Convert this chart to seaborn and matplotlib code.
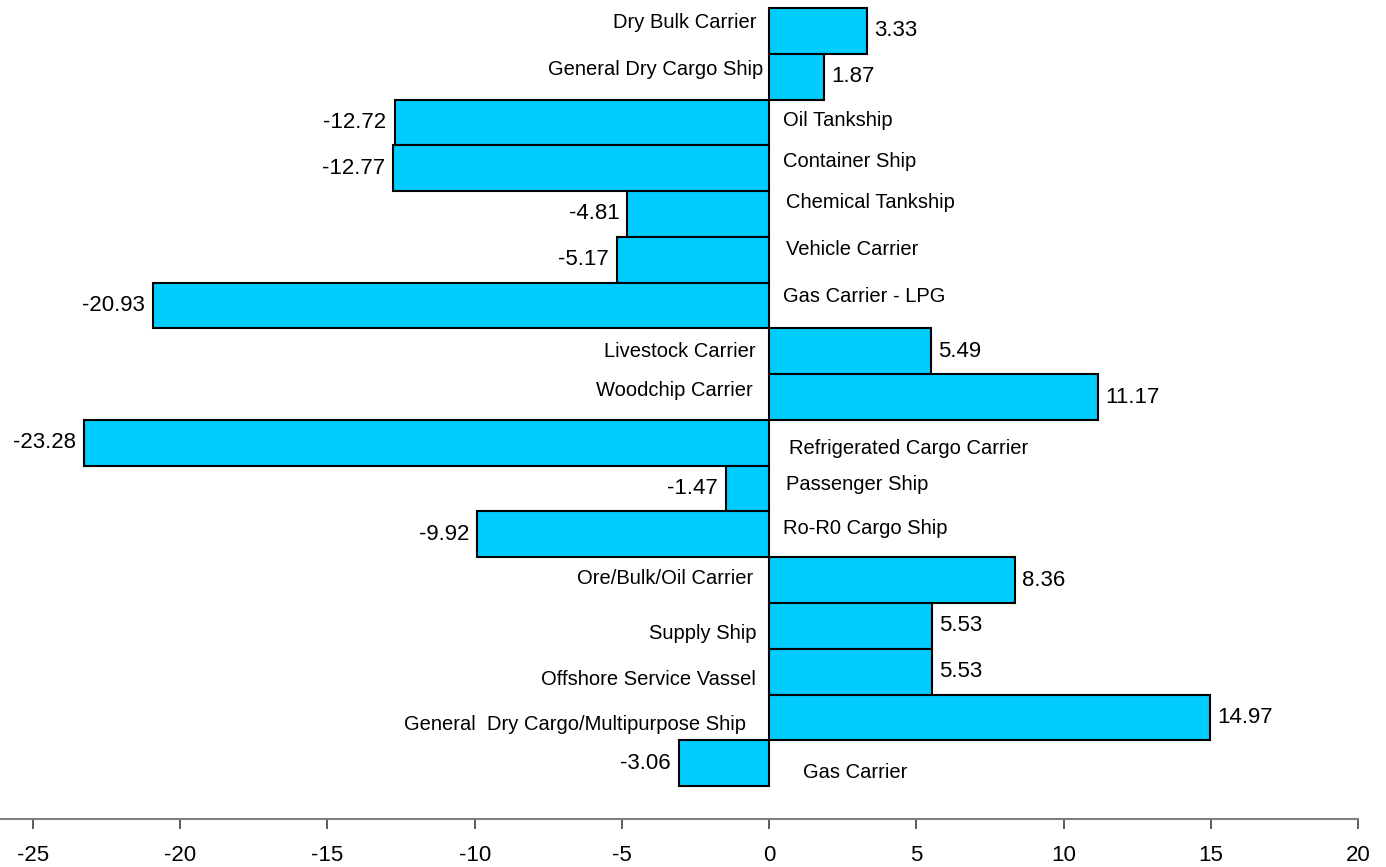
import matplotlib
matplotlib.use("Agg")
import matplotlib.pyplot as plt
import seaborn as sns
import pandas as pd

# Ship types, top to bottom
ship_types = [
    "Dry Bulk Carrier",
    "General Dry Cargo Ship",
    "Oil Tankship",
    "Container Ship",
    "Chemical Tankship",
    "Vehicle Carrier",
    "Gas Carrier - LPG",
    "Livestock Carrier",
    "Woodchip Carrier",
    "Refrigerated Cargo Carrier",
    "Passenger Ship",
    "Ro-R0 Cargo Ship",
    "Ore/Bulk/Oil Carrier",
    "Supply Ship",
    "Offshore Service Vassel",
    "General  Dry Cargo/Multipurpose Ship",
    "Gas Carrier",
]

# Change per ship type
changes = [3.33, 1.87, -12.72, -12.77, -4.81, -5.17, -20.93, 5.49, 11.17,
           -23.28, -1.47, -9.92, 8.36, 5.53, 5.53, 14.97, -3.06]

x_ticks = [-25, -20, -15, -10, -5, 0, 5, 10, 15, 20]

# Per-label pixel nudges for the ship-type names (dx, dy; dy positive = down)
name_nudge = [(0, -8), (7, -7), (0, -2), (0, -7), (3, -11), (3, -10), (0, -9),
              (0, 0), (-3, -7), (6, 6), (3, -4), (0, -6), (-3, -2), (0, 8),
              (0, 8), (-10, 7), (20, 9)]

BAR_COLOR = "#00CCFF"

df = pd.DataFrame({"ship": ship_types, "change": changes})

sns.set_theme(style="white")
plt.rcParams["font.family"] = ["Liberation Sans", "DejaVu Sans"]

fig = plt.figure(figsize=(13.86, 8.67), dpi=100)
ax = fig.add_axes([0.0, 1 - 819 / 867, 1358 / 1386, 819 / 867])

sns.barplot(data=df, x="change", y="ship", orient="h", width=1.0,
            color=BAR_COLOR, saturation=1, edgecolor="black", linewidth=1.5,
            ax=ax)

ax.set_xlim(-26.12, 20)
ax.set_ylim(17.22, -0.675)
ax.set_xticks(x_ticks)
ax.set_xticklabels([str(t) for t in x_ticks], fontsize=16)
ax.set_yticks([])
ax.set_xlabel("")
ax.set_ylabel("")

for side in ("left", "right", "top"):
    ax.spines[side].set_visible(False)
ax.spines["bottom"].set_color("#808080")
ax.spines["bottom"].set_linewidth(1.5)
ax.tick_params(axis="x", direction="out", length=7, width=1.2,
               color="#404040", pad=12, labelcolor="black", bottom=True)

for i, (name, val) in enumerate(zip(ship_types, changes)):
    ndx, ndy = name_nudge[i]
    if val >= 0:
        ax.annotate(f"{val:.2f}", xy=(val, i), xytext=(7, 0),
                    textcoords="offset pixels", ha="left", va="center",
                    fontsize=16, color="black")
        ax.annotate(name, xy=(0, i), xytext=(-13 + ndx, -ndy),
                    textcoords="offset pixels", ha="right", va="center",
                    fontsize=14.5, color="black")
    else:
        ax.annotate(f"{val:.2f}", xy=(val, i), xytext=(-8, 0),
                    textcoords="offset pixels", ha="right", va="center",
                    fontsize=16, color="black")
        ax.annotate(name, xy=(0, i), xytext=(14 + ndx, -ndy),
                    textcoords="offset pixels", ha="left", va="center",
                    fontsize=14.5, color="black")

fig.savefig("out.png", dpi=100)
